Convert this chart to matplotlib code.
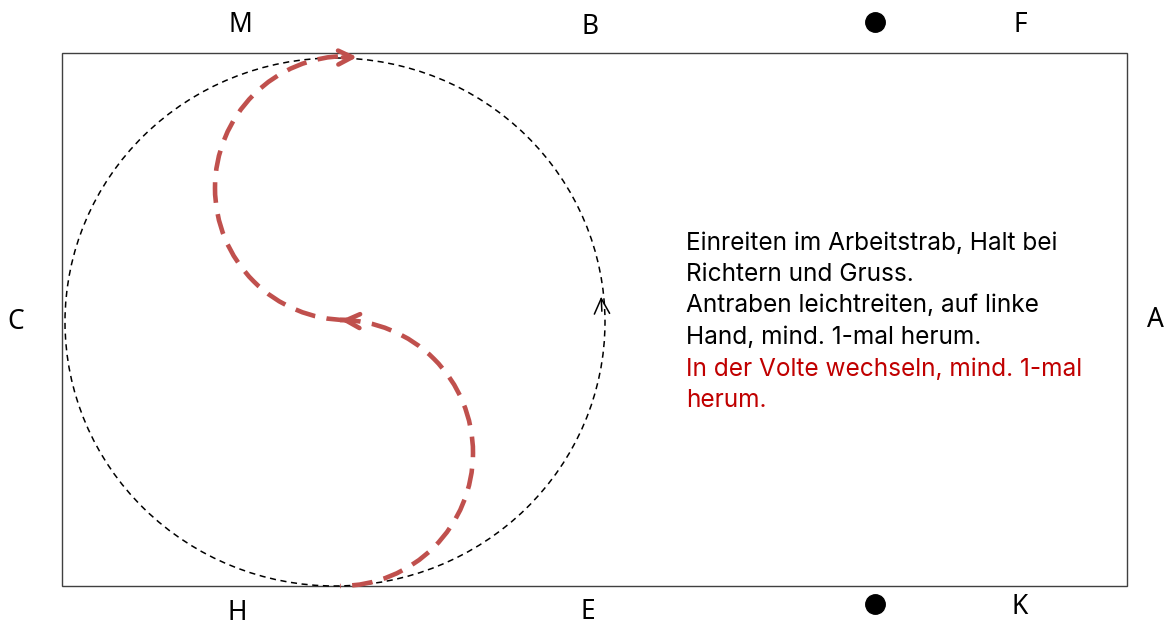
import matplotlib.pyplot as plt
from matplotlib.patches import Rectangle, Ellipse, Arc

# Bahnpunkte (Pixelkoordinaten des Bildes)
letters = ["M", "B", "F", "H", "E", "K", "C", "A"]
letter_x = [240, 590, 1020, 237, 588, 1020, 16, 1155]
letter_y = [25, 27, 25, 613, 612, 607, 322, 320]
dot_x = [875, 875]
dot_y = [22, 604]

# Reitbahn
arena = (62, 53, 1065, 533)  # x, y, Breite, Hoehe
volte_center = (335, 322)
volte_size = (540, 528)

# Wechsel in der Volte (zwei Halbkreise)
s_lower = (340, 453, 266)
s_upper = (347, 188, 264)

text_black = ["Einreiten im Arbeitstrab, Halt bei",
              "Richtern und Gruss.",
              "Antraben leichtreiten, auf linke",
              "Hand, mind. 1-mal herum."]
text_red = ["In der Volte wechseln, mind. 1-mal",
            "herum."]

red = "#c0504d"

fig = plt.figure(figsize=(11.69, 6.28), dpi=100)
ax = fig.add_axes([0, 0, 1, 1])
ax.set_xlim(0, 1169)
ax.set_ylim(628, 0)
ax.set_axis_off()

ax.add_patch(Rectangle(arena[:2], arena[2], arena[3], fill=False,
                       edgecolor="#404040", lw=1.0))

ax.add_patch(Ellipse(volte_center, volte_size[0], volte_size[1], fill=False,
                     edgecolor="black", lw=1.1, linestyle=(0, (4, 3))))

ax.add_patch(Arc(s_lower[:2], s_lower[2], s_lower[2], theta1=-90, theta2=90,
                 edgecolor=red, lw=3.3, linestyle=(0, (4.5, 2.5))))
ax.add_patch(Arc(s_upper[:2], s_upper[2], s_upper[2], theta1=90, theta2=270,
                 edgecolor=red, lw=3.3, linestyle=(0, (4.5, 2.5))))

# Pfeilspitzen
ax.annotate("", xy=(360, 57), xytext=(340, 57.5),
            arrowprops=dict(arrowstyle="->,head_length=1.0,head_width=0.5",
                            color=red, lw=3.3))
ax.annotate("", xy=(338, 320), xytext=(358, 321),
            arrowprops=dict(arrowstyle="->,head_length=1.0,head_width=0.5",
                            color=red, lw=3.3))
ax.annotate("", xy=(601, 294), xytext=(602, 314),
            arrowprops=dict(arrowstyle="->,head_length=1.1,head_width=0.55",
                            color="black", lw=1.1))

for s, x, y in zip(letters, letter_x, letter_y):
    ax.text(x, y, s, ha="center", va="center", fontsize=19,
            family="Noto Sans", color="black")

ax.plot(dot_x, dot_y, "o", color="black", markersize=14)

y0 = 243
dy = 31.5
for i, line in enumerate(text_black + text_red):
    c = "black" if i < len(text_black) else "#c00000"
    ax.text(686, y0 + i * dy, line, ha="left", va="center", fontsize=17.6,
            family="Inter", color=c)

fig.savefig("out.png", dpi=100)
